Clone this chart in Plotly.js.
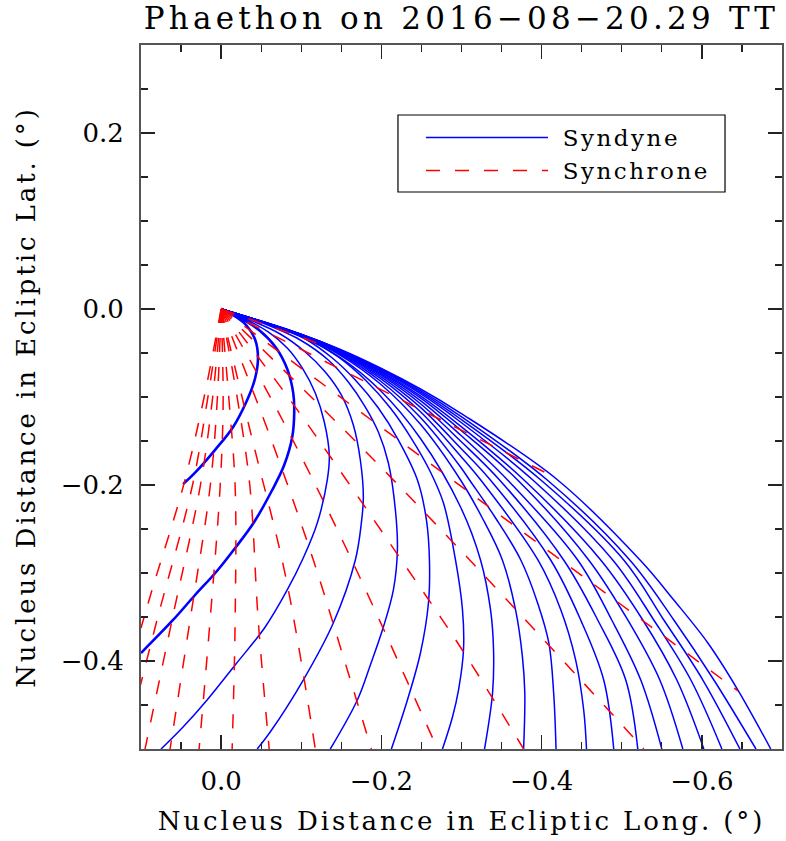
<!DOCTYPE html>
<html><head><meta charset="utf-8">
<script src="https://cdn.plot.ly/plotly-3.0.1.min.js"></script>
<style>
html,body{margin:0;padding:0;background:#fff;}
#chart{width:786px;height:841px;}
.gtitle{letter-spacing:4.2px;}
.xtitle,.ytitle{letter-spacing:2.9px;}
.legendtext{letter-spacing:2.5px;}
</style></head><body><div id="chart"></div>
<script>
// ---- Syndynes (blue): nucleus distance in ecliptic longitude (x) / latitude (y), degrees ----
const syn1X = [0, -0.015, -0.031, -0.0425, -0.046, -0.0425, -0.0325, -0.015, 0.0075, 0.0325, 0.0475];
const syn1Y = [0, -0.007, -0.018, -0.035, -0.0557, -0.0784, -0.1034, -0.134, -0.160, -0.186, -0.199];
const syn2X = [0, -0.02375, -0.04875, -0.06875, -0.0825, -0.09, -0.09125, -0.08875, -0.07875, -0.06375, -0.04125, -0.0175, 0.00625, 0.0325, 0.06, 0.1];
const syn2Y = [0, -0.0102, -0.025, -0.0443, -0.0682, -0.0955, -0.117, -0.1455, -0.1773, -0.2057, -0.242, -0.2716, -0.2989, -0.325, -0.3534, -0.3909];
const syn3X = [0, -0.03, -0.05875, -0.0825, -0.10125, -0.1175, -0.12875, -0.135, -0.1325, -0.12, -0.1025, -0.0825, -0.055, -0.0175, 0.0175, 0.0475, 0.075];
const syn3Y = [0, -0.0114, -0.0261, -0.0443, -0.067, -0.0955, -0.1284, -0.1659, -0.1943, -0.2432, -0.283, -0.3193, -0.3614, -0.4045, -0.4443, -0.475, -0.5];
const syn4X = [0, -0.03625, -0.07375, -0.105, -0.13, -0.15, -0.165, -0.17375, -0.1775, -0.175, -0.1675, -0.14, -0.1025, -0.06125, -0.045];
const syn4Y = [0, -0.0125, -0.0284, -0.0489, -0.0716, -0.0977, -0.1318, -0.1716, -0.2136, -0.2432, -0.2852, -0.3568, -0.4216, -0.4807, -0.5];
const syn5X = [0, -0.04875, -0.09875, -0.13375, -0.15875, -0.18, -0.19625, -0.20875, -0.2175, -0.22, -0.215, -0.2025, -0.18625, -0.17, -0.13625];
const syn5Y = [0, -0.0148, -0.0352, -0.058, -0.083, -0.1114, -0.1398, -0.175, -0.2284, -0.2739, -0.3193, -0.3614, -0.4045, -0.4443, -0.5];
const syn6X = [0, -0.055, -0.105, -0.13875, -0.1675, -0.19625, -0.22125, -0.245, -0.25625, -0.26, -0.25875, -0.24875, -0.2325, -0.2125];
const syn6Y = [0, -0.0159, -0.0341, -0.0557, -0.0807, -0.1125, -0.1489, -0.1943, -0.2398, -0.2852, -0.3341, -0.3909, -0.4443, -0.5];
const syn7X = [0, -0.05875, -0.11125, -0.14625, -0.18, -0.21125, -0.23875, -0.26125, -0.2775, -0.2925, -0.30125, -0.3025, -0.29625, -0.28875, -0.27625];
const syn7Y = [0, -0.017, -0.0352, -0.0545, -0.0807, -0.1125, -0.1489, -0.1852, -0.2205, -0.2852, -0.342, -0.3875, -0.433, -0.4636, -0.5];
const syn8X = [0, -0.0988, -0.1488, -0.1988, -0.2488, -0.2988, -0.32375, -0.33625, -0.34, -0.33875, -0.32875];
const syn8Y = [0, -0.0307, -0.0553, -0.0927, -0.1472, -0.225, -0.2852, -0.342, -0.3875, -0.4364, -0.5];
const syn9X = [0, -0.0988, -0.1488, -0.1988, -0.2488, -0.2988, -0.326, -0.351, -0.3675, -0.376, -0.379, -0.3775];
const syn9Y = [0, -0.03, -0.0526, -0.0852, -0.131, -0.1943, -0.2375, -0.2852, -0.342, -0.395, -0.436, -0.5];
const syn10X = [0, -0.0988, -0.1488, -0.1988, -0.2488, -0.2988, -0.31, -0.3425, -0.374, -0.395, -0.409, -0.415, -0.418];
const syn10Y = [0, -0.0297, -0.0514, -0.0818, -0.1233, -0.1795, -0.1943, -0.2375, -0.2852, -0.334, -0.3795, -0.436, -0.5];
const syn11X = [0, -0.0988, -0.1488, -0.1988, -0.2488, -0.2988, -0.324, -0.3954, -0.424, -0.4425, -0.4525, -0.456];
const syn11Y = [0, -0.0294, -0.0502, -0.0788, -0.1167, -0.167, -0.1943, -0.2852, -0.342, -0.399, -0.4557, -0.5];
const syn12X = [0, -0.0988, -0.1488, -0.1988, -0.2488, -0.2988, -0.336, -0.41125, -0.44875, -0.4775, -0.49];
const syn12Y = [0, -0.0292, -0.0494, -0.0766, -0.1118, -0.158, -0.1943, -0.2852, -0.3534, -0.4216, -0.5];
const syn13X = [0, -0.0988, -0.1488, -0.1988, -0.2488, -0.2988, -0.3475, -0.4275, -0.47, -0.505, -0.52];
const syn13Y = [0, -0.0291, -0.0488, -0.0747, -0.1077, -0.15, -0.1943, -0.2852, -0.3534, -0.4216, -0.5];
const syn14X = [0, -0.0988, -0.1488, -0.1988, -0.2488, -0.2988, -0.3575, -0.445, -0.4875, -0.52375, -0.55];
const syn14Y = [0, -0.029, -0.0482, -0.0731, -0.1041, -0.1432, -0.1943, -0.2852, -0.3534, -0.4216, -0.5];
const syn15X = [0, -0.0988, -0.1488, -0.1988, -0.2488, -0.2988, -0.37, -0.45875, -0.5075, -0.5475, -0.57625];
const syn15Y = [0, -0.0289, -0.0477, -0.0717, -0.1011, -0.1375, -0.1943, -0.2852, -0.3534, -0.4216, -0.5];
const syn16X = [0, -0.0988, -0.1488, -0.1988, -0.2488, -0.2988, -0.378, -0.47375, -0.52625, -0.56875, -0.6025];
const syn16Y = [0, -0.0288, -0.0473, -0.0706, -0.0988, -0.133, -0.1943, -0.2852, -0.3534, -0.4216, -0.5];
const syn17X = [0, -0.0988, -0.1488, -0.1988, -0.2488, -0.2988, -0.389, -0.48875, -0.54, -0.58625, -0.625];
const syn17Y = [0, -0.0286, -0.0469, -0.0695, -0.0963, -0.1284, -0.1943, -0.2852, -0.3534, -0.4216, -0.5];
const syn18X = [0, -0.0988, -0.1488, -0.1988, -0.2488, -0.2988, -0.399, -0.5025, -0.5525, -0.60125, -0.6475];
const syn18Y = [0, -0.0285, -0.0466, -0.0686, -0.0945, -0.125, -0.1943, -0.2852, -0.3534, -0.4216, -0.5];
const syn19X = [0, -0.0988, -0.1488, -0.1988, -0.2488, -0.2988, -0.407, -0.51, -0.565, -0.615, -0.6675];
const syn19Y = [0, -0.0285, -0.0464, -0.0678, -0.0927, -0.1216, -0.1943, -0.2852, -0.3534, -0.4216, -0.5];
const syn20X = [0, -0.074, -0.0988, -0.1488, -0.1988, -0.2488, -0.2988, -0.42, -0.524, -0.565, -0.6075, -0.645, -0.686];
const syn20Y = [0, -0.0205, -0.0284, -0.046, -0.067, -0.0909, -0.1182, -0.1943, -0.2864, -0.3307, -0.3795, -0.433, -0.5];

// ---- Synchrones (red dashed) ----
const chrHX = [0, -0.124];                 const chrHY = [0, -0.040];
const chrGX = [0, -0.405];                 const chrGY = [0, -0.186];
const chrFX = [0, -0.645];                 const chrFY = [0, -0.434];
const chrEX = [0, -0.1575, -0.295, -0.51375, -0.5275]; const chrEY = [0, -0.141, -0.2705, -0.486, -0.5];
const chrDX = [0, -0.089, -0.2225, -0.301, -0.3775];   const chrDY = [0, -0.107, -0.282, -0.3875, -0.5];
const chrCX = [0, -0.07125, -0.1525, -0.26125, -0.27]; const chrCY = [0, -0.117, -0.265, -0.482, -0.5];
const chrBX = [0, -0.065, -0.115, -0.14875, -0.1875];  const chrBY = [0, -0.1545, -0.285, -0.384, -0.5];
const chrAX = [0, -0.036, -0.0775, -0.099, -0.1175];   const chrAY = [0, -0.1375, -0.291, -0.3955, -0.5];
const fanY = [0, -0.1057, -0.2023, -0.3534, -0.5];
const chrZ1X = [0, -0.021, -0.036, -0.04625, -0.06];
const chrZ2X = [0, -0.01, -0.0175, -0.0175, -0.01375];
const chrZ3X = [0, -0.0025, 0.00125, 0.01375, 0.0275];
const chrZ4X = [0, 0.005, 0.01375, 0.03875, 0.06375];
const chrZ5X = [0, 0.01125, 0.02625, 0.06125, 0.095];
const chrZ6X = [0, 0.0175, 0.03625, 0.08, 0.1025];     const chrZ6Y = [0, -0.1057, -0.2023, -0.3534, -0.434];
const chrZ7X = [0, 0.0225, 0.0475, 0.08625, 0.1];      const chrZ7Y = [0, -0.1057, -0.2023, -0.3193, -0.3625];

const syndynes = [
  [syn1X, syn1Y], [syn2X, syn2Y], [syn3X, syn3Y], [syn4X, syn4Y], [syn5X, syn5Y],
  [syn6X, syn6Y], [syn7X, syn7Y], [syn8X, syn8Y], [syn9X, syn9Y], [syn10X, syn10Y],
  [syn11X, syn11Y], [syn12X, syn12Y], [syn13X, syn13Y], [syn14X, syn14Y], [syn15X, syn15Y],
  [syn16X, syn16Y], [syn17X, syn17Y], [syn18X, syn18Y], [syn19X, syn19Y], [syn20X, syn20Y]
];
const synchrones = [
  [chrHX, chrHY], [chrGX, chrGY], [chrFX, chrFY], [chrEX, chrEY], [chrDX, chrDY],
  [chrCX, chrCY], [chrBX, chrBY], [chrAX, chrAY], [chrZ1X, fanY], [chrZ2X, fanY],
  [chrZ3X, fanY], [chrZ4X, fanY], [chrZ5X, fanY], [chrZ6X, chrZ6Y], [chrZ7X, chrZ7Y]
];

const FONT = 'DejaVu Serif';
const traces = [];
syndynes.forEach(function (s, i) {
  traces.push({
    type: 'scatter', mode: 'lines', x: s[0], y: s[1],
    name: ' Syndyne', legendgroup: 'syndyne', showlegend: i === 2,
    line: {color: '#0000ff', width: i < 2 ? 2.6 : 1.5, shape: 'spline', smoothing: 1},
    hoverinfo: 'skip'
  });
});
synchrones.forEach(function (s, i) {
  traces.push({
    type: 'scatter', mode: 'lines', x: s[0], y: s[1],
    name: ' Synchrone', legendgroup: 'synchrone', showlegend: i === 0,
    line: {color: '#ff0000', width: 1.5, dash: '14px,15px', shape: 'spline', smoothing: 1},
    hoverinfo: 'skip'
  });
});

const axisCommon = {
  tickmode: 'linear', tick0: 0, dtick: 0.2, tickformat: '.1f',
  ticks: 'inside', ticklen: 14, tickwidth: 1.4, tickcolor: '#222',
  minor: {tick0: 0, dtick: 0.05, ticks: 'inside', ticklen: 7, tickwidth: 1.2, tickcolor: '#222', showgrid: false},
  showline: true, linecolor: '#555', linewidth: 2, mirror: 'allticks',
  showgrid: false, zeroline: false,
  tickfont: {family: FONT, size: 26, color: '#000'}
};

const layout = {
  width: 786, height: 841,
  margin: {l: 141, r: 4, t: 45, b: 92, pad: 0},
  paper_bgcolor: '#ffffff', plot_bgcolor: '#ffffff',
  showlegend: true,
  title: {
    text: 'Phaethon on 2016−08−20.29 TT',
    font: {family: FONT, size: 31, color: '#000'},
    x: 0.5, xref: 'paper', xanchor: 'center',
    y: 0.979, yref: 'container', yanchor: 'middle'
  },
  xaxis: Object.assign({}, axisCommon, {
    range: [0.1, -0.7], ticklabelstandoff: 8,
    title: {text: 'Nucleus Distance in Ecliptic Long. (°)', font: {family: FONT, size: 26, color: '#000'}, standoff: 17}
  }),
  yaxis: Object.assign({}, axisCommon, {
    range: [-0.5, 0.3], ticklabelstandoff: 10,
    title: {text: 'Nucleus Distance in Ecliptic Lat. (°)', font: {family: FONT, size: 26, color: '#000'}, standoff: 18}
  }),
  legend: {
    x: 0.4368, y: 0.8991, xanchor: 'left', yanchor: 'top',
    bgcolor: 'rgba(0,0,0,0)', borderwidth: 0,
    font: {family: FONT, size: 23, color: '#000'},
    itemwidth: 122, tracegroupgap: 0, traceorder: 'normal'
  },
  shapes: [{
    type: 'rect', xref: 'paper', yref: 'paper',
    x0: 0.4009, x1: 0.9111, y0: 0.7912, y1: 0.9006,
    line: {color: '#000', width: 1.2}, fillcolor: '#ffffff', layer: 'above'
  }]
};

Plotly.newPlot('chart', traces, layout, {displayModeBar: false, staticPlot: true});
</script></body></html>
